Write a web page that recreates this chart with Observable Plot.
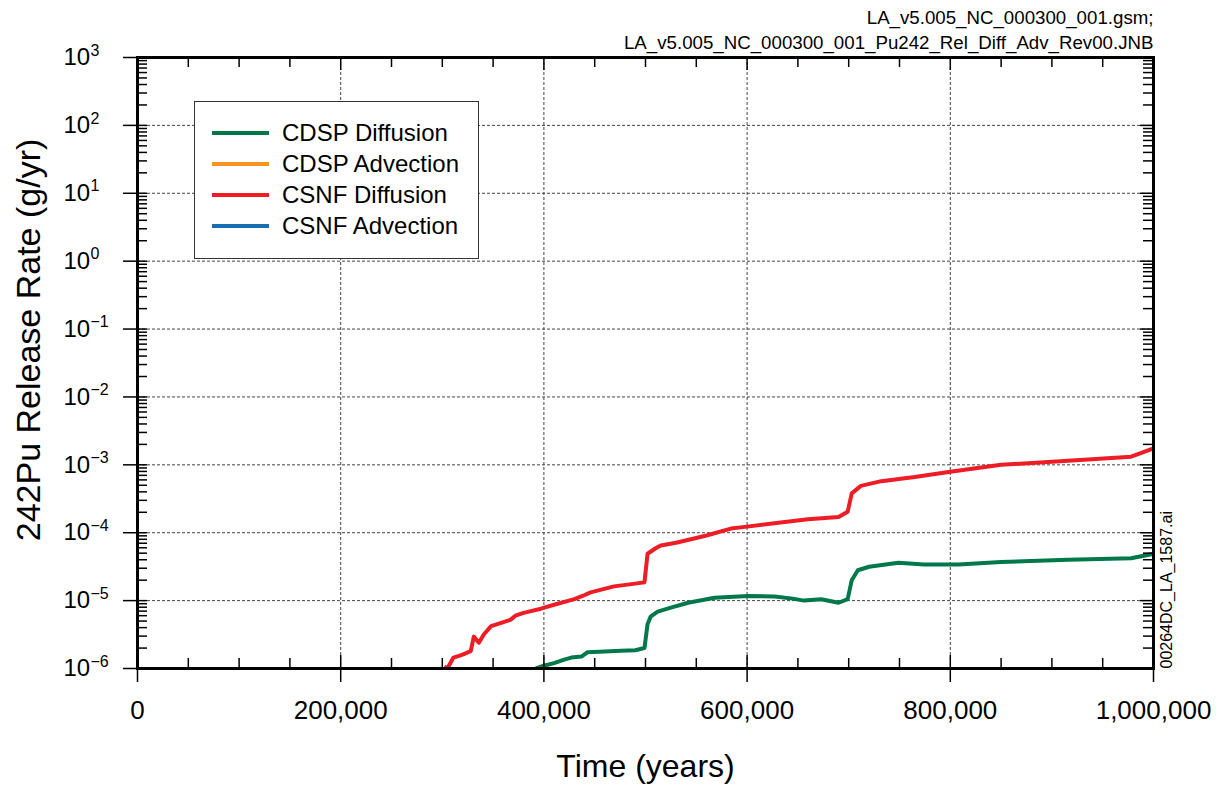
<!DOCTYPE html>
<html>
<head>
<meta charset="utf-8">
<script src="https://cdn.jsdelivr.net/npm/d3@7"></script>
<script src="https://cdn.jsdelivr.net/npm/@observablehq/plot@0.6"></script>
<style>
  html, body { margin: 0; padding: 0; background: #ffffff; }
  #chart { position: relative; width: 1231px; height: 787px; }
</style>
</head>
<body>
<div id="chart"></div>
<script>
// ---------------- data ----------------
const seriesNames = ["CDSP Diffusion", "CDSP Advection", "CSNF Diffusion", "CSNF Advection"];
const seriesColors = ["#00784a", "#f7941e", "#ee1c25", "#1a6eb0"];

// CDSP Diffusion (green)
const cdspDiffTime = [392000, 400000, 410000, 420000, 427000, 437000, 443000, 460000, 476000, 490000, 499000,
  502000, 505000, 512000, 525000, 542000, 568000, 601000, 627000, 645000, 656000, 673000, 690000, 699000,
  703000, 709000, 720000, 749000, 774000, 808000, 850000, 916000, 978000, 1000000];
const cdspDiffValue = [1.0e-6, 1.1e-6, 1.2e-6, 1.35e-6, 1.45e-6, 1.5e-6, 1.74e-6, 1.78e-6, 1.82e-6, 1.86e-6, 2.0e-6,
  4.5e-6, 5.8e-6, 6.9e-6, 7.9e-6, 9.3e-6, 1.1e-5, 1.17e-5, 1.15e-5, 1.07e-5, 1.0e-5, 1.05e-5, 9.3e-6, 1.05e-5,
  2.0e-5, 2.8e-5, 3.15e-5, 3.6e-5, 3.4e-5, 3.4e-5, 3.7e-5, 4.0e-5, 4.2e-5, 4.9e-5];

// CDSP Advection (orange) – not visible above 1e-6
const cdspAdvTime = [];
const cdspAdvValue = [];

// CSNF Diffusion (red)
const csnfDiffTime = [302000, 305000, 311000, 320000, 328000, 331000, 336000, 341000, 348000, 358000, 367000,
  372000, 380000, 397000, 410000, 430000, 438000, 446000, 469000, 490000, 499000,
  502000, 510000, 515000, 530000, 552000, 560000, 584000, 600000, 633000, 660000, 690000, 699000,
  703000, 712000, 732000, 765000, 800000, 850000, 916000, 978000, 1000000];
const csnfDiffValue = [1.07e-6, 1.0e-6, 1.45e-6, 1.6e-6, 1.8e-6, 2.95e-6, 2.4e-6, 3.2e-6, 4.2e-6, 4.7e-6, 5.2e-6,
  6.0e-6, 6.6e-6, 7.6e-6, 8.7e-6, 1.05e-5, 1.17e-5, 1.32e-5, 1.62e-5, 1.78e-5, 1.86e-5,
  4.9e-5, 5.9e-5, 6.5e-5, 7.1e-5, 8.5e-5, 9.1e-5, 1.15e-4, 1.23e-4, 1.41e-4, 1.58e-4, 1.70e-4, 2.04e-4,
  3.8e-4, 4.9e-4, 5.75e-4, 6.6e-4, 7.9e-4, 1.0e-3, 1.15e-3, 1.32e-3, 1.74e-3];

// CSNF Advection (blue) – not visible above 1e-6
const csnfAdvTime = [];
const csnfAdvValue = [];

// ticks
const xMajorTicks = [0, 200000, 400000, 600000, 800000, 1000000];
const xMinorTicks = [50000, 100000, 150000, 250000, 300000, 350000, 450000, 500000, 550000,
  650000, 700000, 750000, 850000, 900000, 950000];
const xGridTicks = [200000, 400000, 600000, 800000];
const yExponents = [-6, -5, -4, -3, -2, -1, 0, 1, 2, 3];
const yGridExponents = [-5, -4, -3, -2, -1, 0, 1, 2];
const yMinorMultipliers = [2, 3, 4, 5, 6, 7, 8, 9];

const xTitle = "Time (years)";
const yTitle = "242Pu Release Rate (g/yr)";
const fileLine1 = "LA_v5.005_NC_000300_001.gsm;";
const fileLine2 = "LA_v5.005_NC_000300_001_Pu242_Rel_Diff_Adv_Rev00.JNB";
const sideLabel = "00264DC_LA_1587.ai";

// ---------------- build ----------------
function rows(times, values, name) {
  return times.map((t, i) => ({time: t, value: values[i], series: name}));
}
const lineData = [
  rows(cdspDiffTime, cdspDiffValue, seriesNames[0]),
  rows(cdspAdvTime, cdspAdvValue, seriesNames[1]),
  rows(csnfDiffTime, csnfDiffValue, seriesNames[2]),
  rows(csnfAdvTime, csnfAdvValue, seriesNames[3])
];

const yMajor = yExponents.map(e => Math.pow(10, e));
const yGrid = yGridExponents.map(e => Math.pow(10, e));
const yMinor = [];
yExponents.slice(0, -1).forEach(e => yMinorMultipliers.forEach(m => yMinor.push(m * Math.pow(10, e))));

const supMap = {"-": "\u2212"};
const expText = e => String(e).split("").map(c => supMap[c] || c).join("");

const W = 1231, H = 787, mL = 137, mR = 78, mT = 57, mB = 119;
const fw = W - mL - mR, fh = H - mT - mB;
const fmt = d3.format(",");
const tickStroke = {stroke: "black", strokeWidth: 1.5};
const gridStyle = {stroke: "#444", strokeWidth: 1, strokeDasharray: "3,2"};

const svg = Plot.plot({
  width: W, height: H,
  marginLeft: mL, marginRight: mR, marginTop: mT, marginBottom: mB,
  style: {fontFamily: "'Liberation Sans', Arial, Helvetica, sans-serif", background: "#ffffff", color: "black"},
  x: {domain: [0, 1000000], axis: null},
  y: {type: "log", domain: [1e-6, 1e3], axis: null},
  marks: [
    Plot.ruleX(xGridTicks, {x: d => d, ...gridStyle}),
    Plot.ruleY(yGrid, {y: d => d, ...gridStyle}),
    ...lineData.map((data, i) => Plot.line(data, {
      x: "time", y: "value", stroke: seriesColors[i], strokeWidth: 4,
      strokeLinejoin: "round", strokeLinecap: "butt", clip: true
    })),
    Plot.frame({stroke: "black", strokeWidth: 3}),
    // x ticks
    Plot.ruleX(xMinorTicks, {x: d => d, insetTop: fh - 10, ...tickStroke}),
    Plot.ruleX(xMinorTicks, {x: d => d, insetBottom: fh - 10, ...tickStroke}),
    Plot.ruleX(xMajorTicks, {x: d => d, insetTop: fh - 13, insetBottom: -14, ...tickStroke}),
    Plot.ruleX(xMajorTicks, {x: d => d, insetBottom: fh - 13, ...tickStroke}),
    // y ticks
    Plot.ruleY(yMinor, {y: d => d, insetRight: fw - 10, ...tickStroke}),
    Plot.ruleY(yMinor, {y: d => d, insetLeft: fw - 10, ...tickStroke}),
    Plot.ruleY(yMajor, {y: d => d, insetLeft: -14, insetRight: fw - 10, ...tickStroke}),
    Plot.ruleY(yMajor, {y: d => d, insetLeft: fw - 13, ...tickStroke}),
    // x tick labels
    Plot.text(xMajorTicks, {x: d => d, frameAnchor: "bottom", dy: 42, text: d => fmt(d),
      fontSize: 26, lineAnchor: "middle", fill: "black"}),
    // y tick labels: base and exponent
    Plot.text(yExponents, {y: e => Math.pow(10, e), frameAnchor: "left", dx: -74, text: () => "10",
      textAnchor: "start", lineAnchor: "middle", fontSize: 24, fill: "black"}),
    Plot.text(yExponents, {y: e => Math.pow(10, e), frameAnchor: "left", dx: -47, dy: -7, text: e => expText(e),
      textAnchor: "start", lineAnchor: "middle", fontSize: 16, fill: "black"}),
    // axis titles
    Plot.text([xTitle], {frameAnchor: "bottom", dy: 98, text: d => d, fontSize: 32, lineAnchor: "middle", fill: "black"}),
    Plot.text([yTitle], {frameAnchor: "left", dx: -108, dy: -23, rotate: -90, text: d => d, fontSize: 34,
      textAnchor: "middle", lineAnchor: "middle", fill: "black"}),
    // file annotations
    Plot.text([fileLine1], {frameAnchor: "top-right", dy: -34, text: d => d, textAnchor: "end",
      lineAnchor: "bottom", fontSize: 18.7, fill: "black"}),
    Plot.text([fileLine2], {frameAnchor: "top-right", dy: -9, text: d => d, textAnchor: "end",
      lineAnchor: "bottom", fontSize: 18.7, fill: "black"}),
    Plot.text([sideLabel], {frameAnchor: "bottom-right", dx: 18, rotate: -90, text: d => d, textAnchor: "start",
      lineAnchor: "bottom", fontSize: 16, fill: "black"})
  ]
});

// legend (drawn into the same svg)
const lg = d3.select(svg).append("g").attr("class", "legend").attr("text-anchor", "start");
lg.append("rect").attr("x", 194.5).attr("y", 101.5).attr("width", 284).attr("height", 157)
  .attr("fill", "white").attr("stroke", "#333").attr("stroke-width", 1);
seriesNames.forEach((name, i) => {
  const yy = 133 + i * 31;
  lg.append("line").attr("x1", 212).attr("x2", 269).attr("y1", yy).attr("y2", yy)
    .attr("stroke", seriesColors[i]).attr("stroke-width", 4);
  lg.append("text").attr("x", 282).attr("y", yy).attr("dy", "0.35em")
    .attr("text-anchor", "start").attr("font-size", 24).attr("fill", "black").text(name);
});

document.getElementById("chart").appendChild(svg);
</script>
</body>
</html>
